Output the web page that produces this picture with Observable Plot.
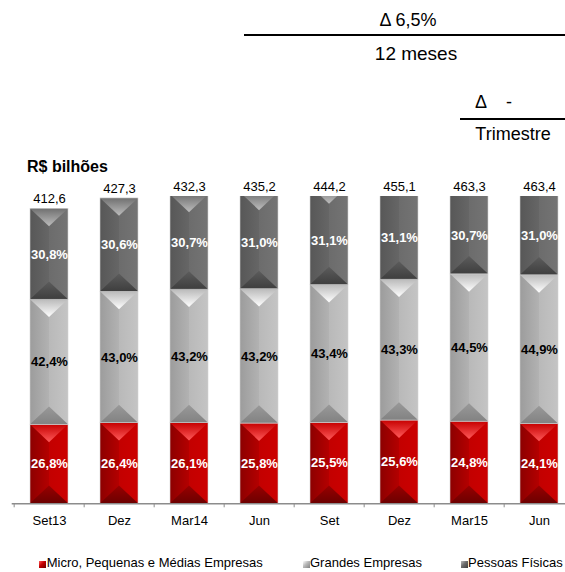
<!DOCTYPE html>
<html><head><meta charset="utf-8">
<script src="https://cdn.jsdelivr.net/npm/d3@7"></script>
<script src="https://cdn.jsdelivr.net/npm/@observablehq/plot@0.6"></script>
<style>
body{margin:0;background:#fff;}
#wrap{position:relative;width:565px;height:572px;overflow:hidden;font-family:"Liberation Sans",Arial,sans-serif;color:#000;background:#fff;}
#wrap svg{position:absolute;left:0;top:0;}
.a{position:absolute;white-space:pre;line-height:1;}
.sq{position:absolute;width:7px;height:7px;}
</style></head><body><div id="wrap"></div>
<script>
// ---- data ----
const periods = ["Set13", "Dez", "Mar14", "Jun", "Set", "Dez", "Mar15", "Jun"];
const totals = [412.6, 427.3, 432.3, 435.2, 444.2, 455.1, 463.3, 463.4];
const microPct = [26.8, 26.4, 26.1, 25.8, 25.5, 25.6, 24.8, 24.1];
const grandesPct = [42.4, 43.0, 43.2, 43.2, 43.4, 43.3, 44.5, 44.9];
const pfPct = [30.8, 30.6, 30.7, 31.0, 31.1, 31.1, 30.7, 31.0];
const seriesNames = ["Micro, Pequenas e Médias Empresas", "Grandes Empresas", "Pessoas Físicas"];
const unitLabel = "R$ bilhões";
const delta12 = "Δ 6,5%";
const delta12Label = "12 meses";
const deltaTri = "Δ    -";
const deltaTriLabel = "Trimestre";

// ---- styles ----
const yMax = 430;
const pal = [
  {h: ["#8c0000", "#b40000", "#c30000", "#cc0000"], t: ["#c60000", "#ff5a5a"], b: ["#980000", "#6c0000"], text: "#fff"},
  {h: ["#9c9c9c", "#b2b2b2", "#b9b9b9", "#c4c4c4"], t: ["#bababa", "#ffffff"], b: ["#999999", "#828282"], text: "#000"},
  {h: ["#575757", "#666666", "#6c6c6c", "#747474"], t: ["#707070", "#bdbdbd"], b: ["#5c5c5c", "#3e3e3e"], text: "#fff"}
];
const fmt = v => v.toFixed(1).replace(".", ",");

// ---- table ----
const rows = [];
periods.forEach((p, i) => {
  let base = 0;
  [microPct, grandesPct, pfPct].forEach((arr, s) => {
    const v = totals[i] * arr[i] / 100;
    rows.push({i, s, y1: base, y2: base + v, pct: arr[i]});
    base += v;
  });
});

function bevel(s) {
  return function(index, scales, values, dimensions, context, next) {
    const g = next(index, scales, values, dimensions, context);
    const ns = "http://www.w3.org/2000/svg";
    for (const rect of Array.from(g.querySelectorAll("rect"))) {
      const x = +rect.getAttribute("x"), y = +rect.getAttribute("y");
      const w = +rect.getAttribute("width"), h = +rect.getAttribute("height");
      const d = Math.min(w * 0.47, h / 2);
      const t = document.createElementNS(ns, "path");
      t.setAttribute("d", `M${x},${y}L${x + w},${y}L${x + w / 2},${y + d}Z`);
      t.setAttribute("fill", `url(#t${s})`);
      const b = document.createElementNS(ns, "path");
      b.setAttribute("d", `M${x},${y + h}L${x + w},${y + h}L${x + w / 2},${y + h - d}Z`);
      b.setAttribute("fill", `url(#b${s})`);
      const o = document.createElementNS(ns, "rect");
      o.setAttribute("x", x); o.setAttribute("y", y);
      o.setAttribute("width", w); o.setAttribute("height", h);
      o.setAttribute("fill", "none"); o.setAttribute("stroke", "#d4d4d4"); o.setAttribute("stroke-width", "0.6");
      rect.after(t, b, o);
    }
    return g;
  };
}

const x0 = 11.7, x1 = 577, n = periods.length;
const halfStep = (x1 - x0) / n / 2;

const marks = [];
[0, 1, 2].forEach(s => {
  marks.push(Plot.barY(rows.filter(r => r.s === s), {
    x: "i", y1: "y1", y2: "y2", fill: `url(#h${s})`, clip: true, render: bevel(s)
  }));
});
marks.push(Plot.ruleY([0], {stroke: "#8c8c8c", strokeWidth: 1.5}));
marks.push(Plot.axisX({tickSize: 4, tickFormat: () => "", dx: -halfStep, color: "#8c8c8c"}));
marks.push(Plot.axisX({tickSize: 0, tickPadding: 12, tickFormat: i => periods[i], fontSize: 13, color: "#000"}));
marks.push(Plot.text(rows, {
  x: "i", y: r => (r.y1 + Math.min(r.y2, yMax)) / 2, text: r => fmt(r.pct) + "%",
  fill: r => pal[r.s].text, fontWeight: "bold", fontSize: 13
}));
marks.push(Plot.text(totals, {
  x: (d, i) => i, y: d => Math.min(d, yMax), dy: -10, text: d => fmt(d), fontSize: 13, fill: "#000"
}));

const svg = Plot.plot({
  width: 565, height: 540,
  marginTop: 196, marginBottom: 36.7, marginLeft: x0, marginRight: 0,
  style: {fontFamily: "'Liberation Sans', Arial, sans-serif", fontSize: "13px", background: "transparent", overflow: "visible"},
  x: {type: "band", domain: d3.range(n), range: [x0, x1], paddingInner: 0.46, paddingOuter: 0.23, label: null},
  y: {domain: [0, yMax], axis: null},
  fill: {type: "identity"},
  marks
});

// gradient defs
const defs = d3.select(svg).insert("defs", ":first-child");
pal.forEach((p, s) => {
  const h = defs.append("linearGradient").attr("id", `h${s}`).attr("x1", 0).attr("x2", 1).attr("y1", 0).attr("y2", 0);
  [[0, p.h[0]], [0.5, p.h[1]], [0.5, p.h[2]], [1, p.h[3]]].forEach(([o, c]) => h.append("stop").attr("offset", o).attr("stop-color", c));
  const t = defs.append("linearGradient").attr("id", `t${s}`).attr("x1", 0).attr("x2", 0).attr("y1", 0).attr("y2", 1);
  t.append("stop").attr("offset", 0).attr("stop-color", p.t[0]);
  t.append("stop").attr("offset", 1).attr("stop-color", p.t[1]);
  const b = defs.append("linearGradient").attr("id", `b${s}`).attr("x1", 0).attr("x2", 0).attr("y1", 0).attr("y2", 1);
  b.append("stop").attr("offset", 0).attr("stop-color", p.b[0]);
  b.append("stop").attr("offset", 1).attr("stop-color", p.b[1]);
});

const wrap = document.getElementById("wrap");
wrap.appendChild(svg);

function addText(txt, left, top, size, weight, center) {
  const d = document.createElement("div");
  d.className = "a";
  d.textContent = txt;
  d.style.fontSize = size + "px";
  d.style.fontWeight = weight || "normal";
  d.style.left = left + "px";
  d.style.top = top + "px";
  if (center) d.style.transform = "translate(-50%,-50%)";
  wrap.appendChild(d);
  return d;
}
function addLine(left, top, width) {
  const d = document.createElement("div");
  d.style.cssText = `position:absolute;left:${left}px;top:${top}px;width:${width}px;height:2px;background:#000;`;
  wrap.appendChild(d);
}
addText(delta12, 408, 20, 18, "normal", true);
addLine(244, 33.5, 330);
addText(delta12Label, 416, 53, 19, "normal", true);
addText(deltaTri, 475, 93, 18, "normal", false);
addLine(460, 117.5, 110);
addText(deltaTriLabel, 513, 134, 18, "normal", true);
addText(unitLabel, 27, 158.5, 16, "bold", false);

// legend
const legendPos = [[39.3, 46.7], [302.7, 310], [461, 468]];
seriesNames.forEach((name, s) => {
  const sq = document.createElement("div");
  sq.className = "sq";
  sq.style.left = legendPos[s][0] + "px";
  sq.style.top = "561px";
  sq.style.background = `linear-gradient(135deg, ${pal[s].t[1]}, ${pal[s].h[2]} 45%, ${pal[s].b[1]})`;
  wrap.appendChild(sq);
  addText(name, legendPos[s][1], 556, 13, "normal", false);
});
</script></body></html>
